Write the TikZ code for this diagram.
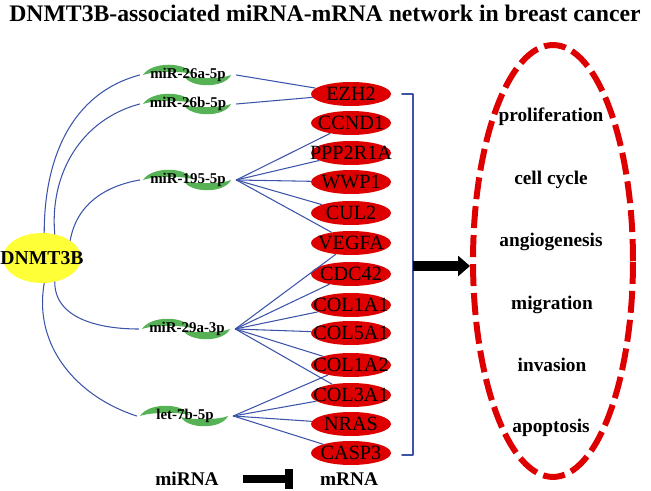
\documentclass[tikz,border=0pt]{standalone}
\usepackage{fontspec}
\setmainfont{Liberation Serif}
\usepackage{tikz}
\usetikzlibrary{arrows,arrows.meta,shapes.geometric}
\definecolor{edgeblue}{RGB}{60,84,168}
\definecolor{mirgreen}{RGB}{86,178,84}
\definecolor{genered}{RGB}{222,0,0}
\definecolor{dnmtyellow}{RGB}{255,255,55}
\newcommand{\gn}[1]{\makebox[0pt]{#1}}
\tikzset{
  gene/.style={ellipse,fill=genered,inner sep=0pt,minimum width=1.6cm,minimum height=0.48cm,font=\fontsize{11.5}{12}\selectfont},
  mir/.style={inner sep=0pt,minimum width=1.92cm,minimum height=0.36cm,font=\fontsize{8.5}{10}\selectfont\bfseries},
  link/.style={edgeblue,line width=0.6pt},
  func/.style={font=\fontsize{11}{13}\selectfont\bfseries},
  mirwave/.pic={
    \fill[mirgreen] (-45,0) .. controls (-36,14) and (-2,13) .. (4,1) .. controls (-6,4) and (-34,4) .. (-45,0) -- cycle;
    \fill[mirgreen] (-4,-1) .. controls (2,-13) and (36,-14) .. (43,0) .. controls (34,-4) and (6,-4) .. (-4,-1) -- cycle;
  }
}

\begin{document}
\begin{tikzpicture}[line cap=round,line join=round,>=triangle 45,x=0.02cm,y=0.02cm]
\useasboundingbox (0,0) rectangle (651,490);
\node[font=\fontsize{13.5}{15}\selectfont\bfseries] (title) at (325,477) {DNMT3B-associated miRNA-mRNA network in breast cancer};

% hub
\node[ellipse,fill=dnmtyellow,inner sep=0pt,minimum width=1.56cm,minimum height=1cm,font=\fontsize{11.2}{13}\selectfont\bfseries] (dnmt) at (42,232) {\gn{DNMT3B}};

% miRNAs
\pic at (188,415) {mirwave};
\node[mir] (m26a) at (188,415) {miR-26a-5p};
\pic at (188,386) {mirwave};
\node[mir] (m26b) at (188,386) {miR-26b-5p};
\pic at (188,310) {mirwave};
\node[mir] (m195) at (188,310) {miR-195-5p};
\pic at (187,161) {mirwave};
\node[mir] (m29a) at (187,161) {miR-29a-3p};
\pic at (185,74) {mirwave};
\node[mir] (let7b) at (185,74) {let-7b-5p};

% mRNAs
\node[gene] (ezh2) at (351,396) {\gn{EZH2}};
\node[gene] (ccnd1) at (351,367) {\gn{CCND1}};
\node[gene] (ppp2r1a) at (351,337) {\gn{PPP2R1A}};
\node[gene] (wwp1) at (351,308) {\gn{WWP1}};
\node[gene] (cul2) at (351,277) {\gn{CUL2}};
\node[gene] (vegfa) at (351,247) {\gn{VEGFA}};
\node[gene] (cdc42) at (351,216) {\gn{CDC42}};
\node[gene] (col1a1) at (351,185) {\gn{COL1A1}};
\node[gene] (col5a1) at (351,157) {\gn{COL5A1}};
\node[gene] (col1a2) at (351,125) {\gn{COL1A2}};
\node[gene] (col3a1) at (351,95) {\gn{COL3A1}};
\node[gene] (nras) at (351,66) {\gn{NRAS}};
\node[gene] (casp3) at (351,37) {\gn{CASP3}};

% DNMT3B -> miRNA
\draw[link] (dnmt.85) to[out=90,in=195] (m26a.west);
\draw[link] (dnmt.62) to[out=95,in=195] (m26b.west);
\draw[link] (dnmt.32) to[out=80,in=190] (m195.west);
\draw[link] (dnmt.-62) to[out=-90,in=180] (m29a.west);
\draw[link] (dnmt.-85) to[out=-100,in=162] (let7b.west);

% miRNA -> mRNA
\draw[link] (m26a.east) -- (ezh2);
\draw[link] (m26b.east) -- (ezh2);
\draw[link] (m195.east) -- (ccnd1);
\draw[link] (m195.east) -- (ppp2r1a);
\draw[link] (m195.east) -- (wwp1);
\draw[link] (m195.east) -- (cul2);
\draw[link] (m195.east) -- (vegfa);
\draw[link] (m29a.east) -- (vegfa);
\draw[link] (m29a.east) -- (cdc42);
\draw[link] (m29a.east) -- (col1a1);
\draw[link] (m29a.east) -- (col5a1);
\draw[link] (m29a.east) -- (col1a2);
\draw[link] (m29a.east) -- (col3a1);
\draw[link] (let7b.east) -- (col1a2);
\draw[link] (let7b.east) -- (col3a1);
\draw[link] (let7b.east) -- (nras);
\draw[link] (let7b.east) -- (casp3);

% bracket and arrow
\draw[edgeblue,line width=1.1pt] (402,396) -- (413,396) -- (413,35) -- (402,35);
\node[draw=genered,ellipse,line width=3.4pt,line cap=butt,dash pattern=on 12.5pt off 4pt,inner sep=0pt,minimum width=3.2cm,minimum height=8.64cm] (funcs) at (553,229) {};
\coordinate (brk) at (413,224);
\draw[line width=6pt,line cap=butt,-{Triangle[length=0.24cm,width=0.4cm]}] (brk) -- (brk -| funcs.west);

% functions
\node[func] (prolif) at (551,373) {proliferation};
\node[func] (cycle) at (551,310) {cell cycle};
\node[func] (angio) at (551,248) {angiogenesis};
\node[func] (migr) at (552,185) {migration};
\node[func] (inva) at (552,125) {invasion};
\node[func] (apop) at (551,62) {apoptosis};

% legend
\node[func] (lmir) at (187,11) {miRNA};
\node[func] (lmrna) at (349,11) {mRNA};
\draw[line width=4.5pt,line cap=butt,-{Bar[width=0.4cm]},shorten <=0.37cm,shorten >=0.41cm] (lmir) -- (lmrna);
\end{tikzpicture}
\end{document}
